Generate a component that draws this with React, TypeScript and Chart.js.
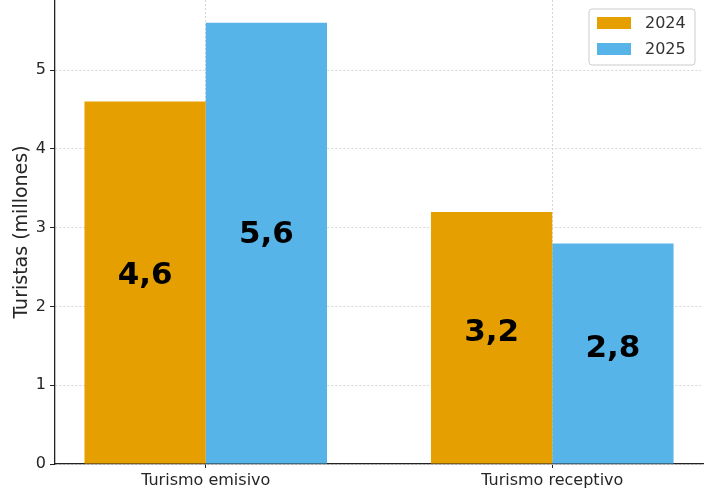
import React, { useEffect, useRef } from "react";
import { Chart, registerables } from "chart.js";

Chart.register(...registerables);

const categories = ["Turismo emisivo", "Turismo receptivo"];
const seriesNames = ["2024", "2025"];
const values2024 = [4.6, 3.2];
const values2025 = [5.6, 2.8];
const yTickValues = [0, 1, 2, 3, 4, 5];
const colors = ["#E69F00", "#56B4E9"];

const FONT = "'DejaVu Sans', sans-serif";

const valueLabelPlugin = {
  id: "valueLabels",
  afterDatasetsDraw(chart: any) {
    const { ctx } = chart;
    const yScale = chart.scales.y;
    ctx.save();
    ctx.font = `bold 31px ${FONT}`;
    ctx.fillStyle = "#000";
    ctx.textAlign = "center";
    ctx.textBaseline = "middle";
    chart.data.datasets.forEach((ds: any, di: number) => {
      const meta = chart.getDatasetMeta(di);
      meta.data.forEach((bar: any, i: number) => {
        const v = ds.data[i].y;
        const y = yScale.getPixelForValue(v * 0.52);
        ctx.fillText(v.toFixed(1).replace(".", ","), bar.x, y);
      });
    });
    ctx.restore();
  },
};

const legendPlugin = {
  id: "customLegend",
  afterDraw(chart: any) {
    const { ctx, chartArea } = chart;
    const right = chartArea.right - 8;
    const left = right - 106;
    const top = 9;
    const h = 56;
    ctx.save();
    ctx.beginPath();
    const r = 3;
    ctx.moveTo(left + r, top);
    ctx.lineTo(right - r, top);
    ctx.arcTo(right, top, right, top + r, r);
    ctx.lineTo(right, top + h - r);
    ctx.arcTo(right, top + h, right - r, top + h, r);
    ctx.lineTo(left + r, top + h);
    ctx.arcTo(left, top + h, left, top + h - r, r);
    ctx.lineTo(left, top + r);
    ctx.arcTo(left, top, left + r, top, r);
    ctx.closePath();
    ctx.fillStyle = "rgba(255,255,255,0.85)";
    ctx.fill();
    ctx.strokeStyle = "#cccccc";
    ctx.lineWidth = 1;
    ctx.stroke();
    ctx.font = `16px ${FONT}`;
    ctx.textBaseline = "middle";
    ctx.textAlign = "left";
    seriesNames.forEach((name, i) => {
      const cy = top + 14 + i * 26;
      ctx.fillStyle = colors[i];
      ctx.fillRect(left + 8, cy - 6, 34, 12);
      ctx.fillStyle = "#333333";
      ctx.fillText(name, left + 56, cy + 1);
    });
    ctx.restore();
  },
};

export default function App() {
  const canvasRef = useRef<HTMLCanvasElement | null>(null);

  useEffect(() => {
    if (!canvasRef.current) return;
    const chart = new Chart(canvasRef.current, {
      type: "bar",
      data: {
        datasets: [
          {
            label: seriesNames[0],
            data: values2024.map((v, i) => ({ x: i, y: v })),
            backgroundColor: colors[0],
            borderWidth: 0,
          },
          {
            label: seriesNames[1],
            data: values2025.map((v, i) => ({ x: i, y: v })),
            backgroundColor: colors[1],
            borderWidth: 0,
          },
        ],
      },
      options: {
        animation: false,
        responsive: true,
        maintainAspectRatio: false,
        layout: { padding: { left: 0, right: 7, top: 0, bottom: 0 } },
        datasets: {
          bar: { categoryPercentage: 0.7, barPercentage: 1.0 },
        },
        plugins: {
          legend: { display: false },
          tooltip: { enabled: false },
        },
        scales: {
          x: {
            type: "linear",
            min: -0.435,
            max: 1.435,
            offset: false,
            afterBuildTicks: (scale: any) => {
              scale.ticks = categories.map((_, i) => ({ value: i }));
            },
            afterFit: (scale: any) => {
              scale.height = 30;
              scale.paddingLeft = 0;
              scale.paddingRight = 0;
            },
            ticks: {
              callback: (v: any) => categories[Math.round(Number(v))] ?? "",
              font: { family: FONT, size: 16 },
              color: "#262626",
              padding: 3,
              maxRotation: 0,
              autoSkip: false,
            },
            grid: {
              offset: false,
              color: "#d6d6d6",
              lineWidth: 1,
              drawTicks: true,
              tickLength: 4,
              tickColor: "#222",
              tickBorderDash: [],
            },
            border: { display: true, color: "#222", width: 1.3, dash: [2, 2] },
          },
          y: {
            min: 0,
            max: 5.89,
            afterBuildTicks: (scale: any) => {
              scale.ticks = yTickValues.map((v) => ({ value: v }));
            },
            afterFit: (scale: any) => {
              scale.width = 55;
              scale.paddingTop = 0;
              scale.paddingBottom = 0;
            },
            ticks: {
              font: { family: FONT, size: 16 },
              color: "#262626",
              padding: 4,
              callback: (v: any) => String(v),
            },
            grid: {
              color: "#d6d6d6",
              lineWidth: 1,
              drawTicks: true,
              tickLength: 5,
              tickColor: "#222",
              tickBorderDash: [],
            },
            border: { display: true, color: "#222", width: 1.3, dash: [2, 2] },
            title: {
              display: true,
              text: "Turistas (millones)",
              font: { family: FONT, size: 19 },
              color: "#262626",
              padding: { top: 11, bottom: 0 },
            },
          },
        },
      } as any,
      plugins: [valueLabelPlugin, legendPlugin],
    });
    return () => chart.destroy();
  }, []);

  return (
    <div style={{ position: "absolute", left: 0, top: 0, width: 710, height: 494, background: "#fff" }}>
      <canvas ref={canvasRef} />
    </div>
  );
}
